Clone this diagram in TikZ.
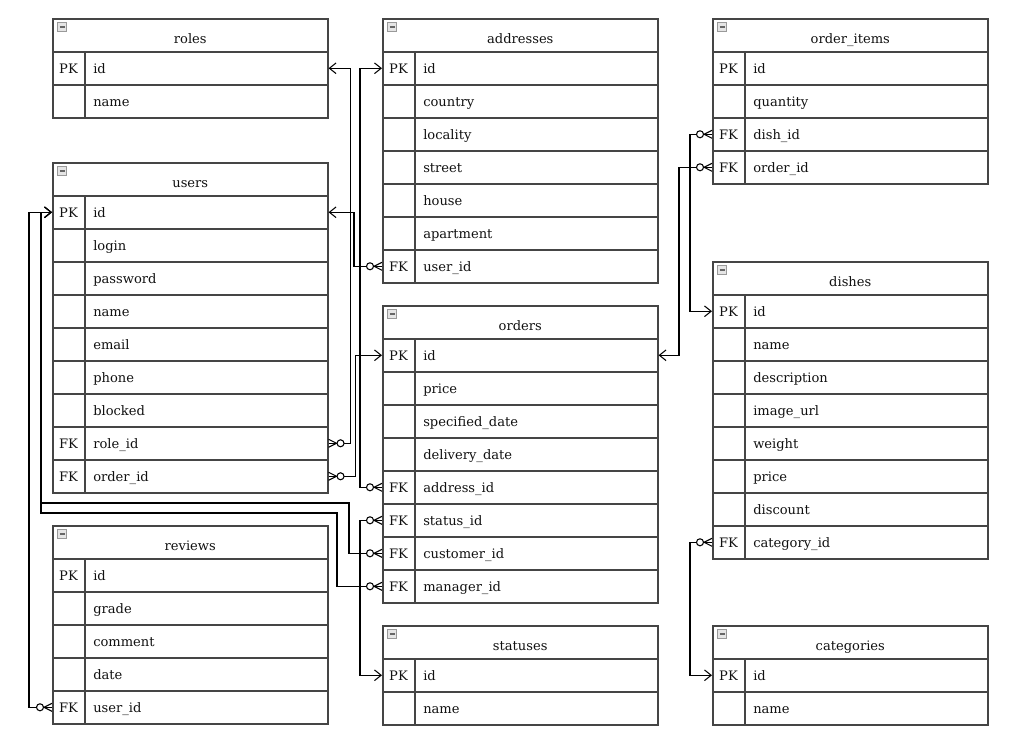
\documentclass[tikz,border=0pt]{standalone}
\usepackage{fontspec}
\setmainfont{DejaVu Serif}
\usetikzlibrary{arrows.meta}
\definecolor{bord}{HTML}{454545}
\definecolor{txt}{HTML}{111111}
\tikzset{
  cell/.style={draw=bord, line width=1.15pt, rectangle, inner sep=0pt,
    minimum width=206.25pt, minimum height=24.75pt, anchor=north west},
  fieldtxt/.style={anchor=west, inner sep=0pt, text=txt, text height=7pt, text depth=0pt,
    font=\fontsize{9.8}{11}\selectfont},
  keytxt/.style={anchor=center, inner sep=0pt, text=txt, text height=7pt, text depth=0pt,
    font=\fontsize{9.8}{11}\selectfont},
  titletxt/.style={anchor=center, inner sep=0pt, text=txt, text height=7pt, text depth=0pt,
    font=\fontsize{9.8}{11}\selectfont},
  iconbox/.style={draw=gray!80, fill=gray!20, line width=0.6pt},
  iconbar/.style={draw=gray!80!black, line width=0.8pt},
  divider/.style={draw=bord, line width=1.15pt},
  conn/.style={draw=black, line width=0.8pt, -{Straight Barb[length=5pt,width=8pt]}},
  crowline/.style={draw=black, line width=0.8pt},
}
\newcommand\erdtable[5]{%
  \node[cell] (#1) at (#2,#3) {};
  \node[titletxt] at ([yshift=-2.5pt]#1.center) {#4};
  \draw[iconbox] (#2+5.5,#3+4.5) rectangle (#2+14.5,#3+13.5);
  \draw[iconbar] (#2+7.5,#3+9) -- (#2+12.5,#3+9);
  \foreach \k/\f [count=\i] in {#5}{
    \node[cell] (#1-\i) at (#2,#3+33*\i) {};
    \draw[divider] (#2+33,#3+33*\i) -- (#2+33,#3+33*\i+33);
    \node[keytxt] at (#2+16.5,#3+33*\i+18.2) {\k};
    \node[fieldtxt] at (#2+41,#3+33*\i+18.2) {\f};
  }%
}
\newcommand\manyend[2]{%
  \begin{scope}[shift={(#1)}, xscale=#2]
    \draw[crowline] (0,-4) -- (8,0) -- (0,4);
    \draw[crowline, fill=white] (12,0) circle[radius=3.5];
  \end{scope}%
}
\begin{document}
\begin{tikzpicture}[x=0.75pt, y=-0.75pt]
\fill[white] (0,0) rectangle (1023,744);
\useasboundingbox (0,0) rectangle (1023,744);

\erdtable{roles}{52}{18}{roles}{PK/id, /name}
\erdtable{users}{52}{162}{users}{PK/id, /login, /password, /name, /email, /phone, /blocked, FK/role\_id, FK/order\_id}
\erdtable{reviews}{52}{525}{reviews}{PK/id, /grade, /comment, /date, FK/user\_id}
\erdtable{addresses}{382}{18}{addresses}{PK/id, /country, /locality, /street, /house, /apartment, FK/user\_id}
\erdtable{orders}{382}{305}{orders}{PK/id, /price, /specified\_date, /delivery\_date, FK/address\_id, FK/status\_id, FK/customer\_id, FK/manager\_id}
\erdtable{statuses}{382}{625}{statuses}{PK/id, /name}
\erdtable{items}{712}{18}{order\_items}{PK/id, /quantity, FK/dish\_id, FK/order\_id}
\erdtable{dishes}{712}{261}{dishes}{PK/id, /name, /description, /image\_url, /weight, /price, /discount, FK/category\_id}
\erdtable{categories}{712}{625}{categories}{PK/id, /name}

% connectors
\draw[conn] (users-8.east) -- ++(22,0) |- (roles-1.east);
\draw[conn] (users-9.east) -- ++(27,0) |- (orders-1.west);
\draw[conn] (addresses-7.west) -- ++(-28,0) |- (users-1.east);
\draw[conn] (orders-5.west) -- ++(-22,0) |- (addresses-1.west);
\draw[conn] (orders-6.west) -- ++(-22,0) |- (statuses-1.west);
\draw[conn] (orders-7.west) -- ++(-33,0) |- (41,503) |- (users-1.west);
\draw[conn] (orders-8.west) -- ++(-45,0) |- (41,513) |- (users-1.west);
\draw[conn] (reviews-5.west) -- ++(-23,0) |- (users-1.west);
\draw[conn] (items-3.west) -- ++(-22,0) |- (dishes-1.west);
\draw[conn] (items-4.west) -- ++(-33,0) |- (orders-1.east);
\draw[conn] (dishes-8.west) -- ++(-22,0) |- (categories-1.west);

% many ends
\manyend{users-8.east}{1}
\manyend{users-9.east}{1}
\manyend{addresses-7.west}{-1}
\manyend{orders-5.west}{-1}
\manyend{orders-6.west}{-1}
\manyend{orders-7.west}{-1}
\manyend{orders-8.west}{-1}
\manyend{reviews-5.west}{-1}
\manyend{items-3.west}{-1}
\manyend{items-4.west}{-1}
\manyend{dishes-8.west}{-1}
\end{tikzpicture}
\end{document}
